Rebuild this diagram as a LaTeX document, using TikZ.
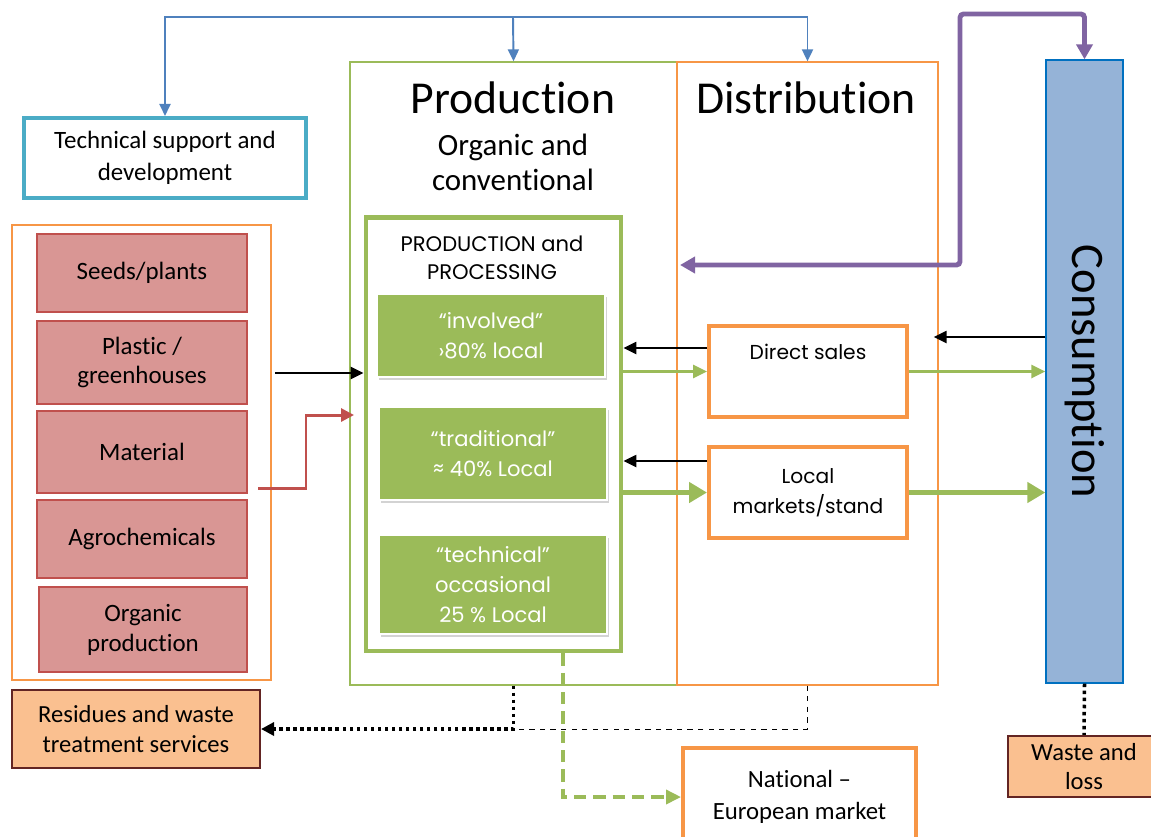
\documentclass[tikz,border=0pt]{standalone}
\usepackage{fontspec}
\setmainfont{Carlito}[Ligatures=NoCommon]
\newfontfamily\gfont{Poppins}
\usetikzlibrary{arrows.meta,shadows}
\definecolor{tealc}{HTML}{4BACC6}
\definecolor{greenc}{HTML}{9BBB59}
\definecolor{orangec}{HTML}{F79646}
\definecolor{purplec}{HTML}{8064A2}
\definecolor{bluec}{HTML}{4F81BD}
\definecolor{redc}{HTML}{C0504D}
\definecolor{pinkc}{HTML}{D99694}
\definecolor{consc}{HTML}{95B3D7}
\definecolor{consb}{HTML}{0070C0}
\definecolor{peachc}{HTML}{FAC090}
\definecolor{brownc}{HTML}{632523}
\tikzstyle{pinkbox}=[rectangle,draw=redc,fill=pinkc,line width=1.2pt,minimum width=4.2cm,align=center,font=\fontsize{14.2}{17}\selectfont]
\tikzstyle{greenbox}=[rectangle,draw=white,fill=greenc,thick,text=white,minimum width=4.56cm,align=center,font=\gfont\fontsize{12}{17}\selectfont,drop shadow={opacity=0.35,shadow xshift=0.04cm,shadow yshift=-0.05cm}]
\tikzstyle{salebox}=[rectangle,draw=orangec,line width=2.3pt,minimum width=3.96cm,minimum height=1.82cm]
\tikzstyle{wastebox}=[rectangle,draw=brownc,fill=peachc,line width=1.2pt,align=center,font=\fontsize{14}{17.5}\selectfont]
\tikzstyle{blk}=[line width=1.4pt,-{Triangle[length=0.26cm,width=0.24cm]}]
\tikzstyle{grn}=[greenc,line width=1.7pt,-{Triangle[length=0.28cm,width=0.26cm]}]
\tikzstyle{grnthick}=[greenc,line width=2.9pt,-{Triangle[length=0.36cm,width=0.4cm]}]
\tikzstyle{bluearr}=[bluec,line width=1.1pt,-{Triangle[length=0.24cm,width=0.22cm]}]
\tikzstyle{dotblk}=[line width=2pt,dotted]

\begin{document}
\begin{tikzpicture}[x=0.02cm,y=-0.02cm]
\useasboundingbox (0,0) rectangle (1151,836);
% frames
\node[rectangle,draw=greenc,thick,minimum width=6.54cm,minimum height=12.46cm] (prod) at (513.5,373.5) {};
\node[rectangle,draw=orangec,thick,minimum width=5.22cm,minimum height=12.46cm] (dist) at (807.5,373.5) {};
\node[rectangle,draw=orangec,thick,minimum width=5.18cm,minimum height=9.1cm] (leftbox) at (141.5,452.5) {};
\node[font=\fontsize{26}{30}\selectfont] (prodtitle) at (513,98) {Production};
\node[font=\fontsize{17.6}{20}\selectfont,align=center] (prodsub) at (513,162) {Organic and\\conventional};
\node[font=\fontsize{26}{30}\selectfont] (disttitle) at (806,98) {Distribution};
% technical support
\node[rectangle,draw=tealc,line width=2.3pt,minimum width=5.64cm,minimum height=1.6cm,align=center,font=\fontsize{14.2}{18}\selectfont] (tech) at (165,158) {Technical support and\\development};
% inputs
\node[pinkbox,minimum height=1.56cm] (seeds) at (142,273) {Seeds/plants};
\node[pinkbox,minimum height=1.66cm] (plastic) at (142,362.5) {Plastic /\\greenhouses};
\node[pinkbox,minimum height=1.64cm] (material) at (142,452) {Material};
\node[pinkbox,minimum height=1.56cm] (agro) at (142,539) {Agrochemicals};
\node[pinkbox,minimum width=4.16cm,minimum height=1.7cm] (organic) at (143,629.5) {Organic\\production};
% production and processing
\node[rectangle,draw=greenc,line width=2.8pt,minimum width=5.1cm,minimum height=8.68cm] (pp) at (493.5,434) {};
\node[align=center,font=\gfont\fontsize{12}{16}\selectfont] (pptxt) at (492,258) {PRODUCTION and\\PROCESSING};
\node[greenbox,minimum height=1.66cm] (inv) at (491,335.5) {“involved”\\›80\% local};
\node[greenbox,minimum height=1.86cm] (trad) at (493,453.5) {“traditional”\\≈ 40\% Local};
\node[greenbox,minimum height=1.98cm] (techn) at (493,584.5) {“technical”\\occasional\\25 \% Local};
% sales
\node[salebox] (direct) at (808,371.5) {};
\node[font=\gfont\fontsize{11.5}{16}\selectfont] (directtxt) at (808,352) {Direct sales};
\node[salebox,align=center,font=\gfont\fontsize{11.5}{17}\selectfont] (local) at (808,492.5) {Local\\markets/stand};
% consumption
\node[rectangle,draw=consb,fill=consc,thick,minimum width=1.54cm,minimum height=12.46cm] (cons) at (1084.5,371.5) {};
\node[rotate=-90,font=\fontsize{26.5}{30}\selectfont] (constxt) at (cons.center) {Consumption};
% outputs
\node[wastebox,minimum width=4.96cm,minimum height=1.56cm] (residues) at (136,729) {Residues and waste\\treatment services};
\node[rectangle,draw=orangec,line width=2.3pt,minimum width=4.66cm,minimum height=1.96cm,align=center,font=\fontsize{14.1}{18}\selectfont] (national) at (799.5,797) {National --\\European market};
\node[wastebox,minimum width=3.04cm,minimum height=1.22cm,font=\fontsize{14}{16}\selectfont] (waste) at (1084,766.5) {Waste and\\loss};
% connectors
\coordinate (bt) at (513,17);
\draw[bluearr] (bt) -| (tech.north);
\draw[bluearr] (bt) -| (dist.north);
\draw[bluearr] (bt) -- (prod.north);
\coordinate (pl) at (680,265);
\coordinate (pt) at (960,14);
\draw[purplec,line width=2.8pt,rounded corners=2pt,{Triangle[length=0.3cm,width=0.32cm]}-{Triangle[length=0.3cm,width=0.32cm]}] (pl) -- (pl -| pt) -- (pt) -| (cons.north);
\coordinate (a1) at (275,373);
\draw[blk] (a1) -- (a1 -| pp.west);
\coordinate (r1) at (258,488);
\coordinate (r2) at (354,415);
\draw[redc,line width=1.7pt,-{Triangle[length=0.26cm,width=0.26cm]}] (r1) -- ++(48,0) |- (r2);
\draw[blk] ([yshift=0.47cm]direct.west) -- ([yshift=0.47cm]direct.west -| pp.east);
\draw[blk] ([yshift=0.63cm]local.west) -- ([yshift=0.63cm]local.west -| pp.east);
\draw[blk] ([yshift=0.69cm]cons.west) -- ([yshift=0.69cm,xshift=-0.1cm]cons.west -| dist.east);
\draw[grn] (direct.west -| pp.east) -- (direct.west);
\draw[grn] (direct.east) -- (direct.east -| cons.west);
\draw[grnthick] (local.west -| pp.east) -- (local.west);
\draw[grnthick] (local.east) -- (local.east -| cons.west);
\draw[dotblk,-{Triangle[length=0.26cm,width=0.26cm]}] (prod.south) |- (residues.east);
\draw[thin,dashed] (dist.south) |- (prod.south |- residues.east);
\draw[greenc,line width=2pt,dash pattern=on 7pt off 4pt,-{Triangle[length=0.3cm,width=0.28cm]}] ([xshift=1.39cm]pp.south) |- (national.west);
\draw[dotblk] (cons.south) -- (waste.north);
\end{tikzpicture}
\end{document}
